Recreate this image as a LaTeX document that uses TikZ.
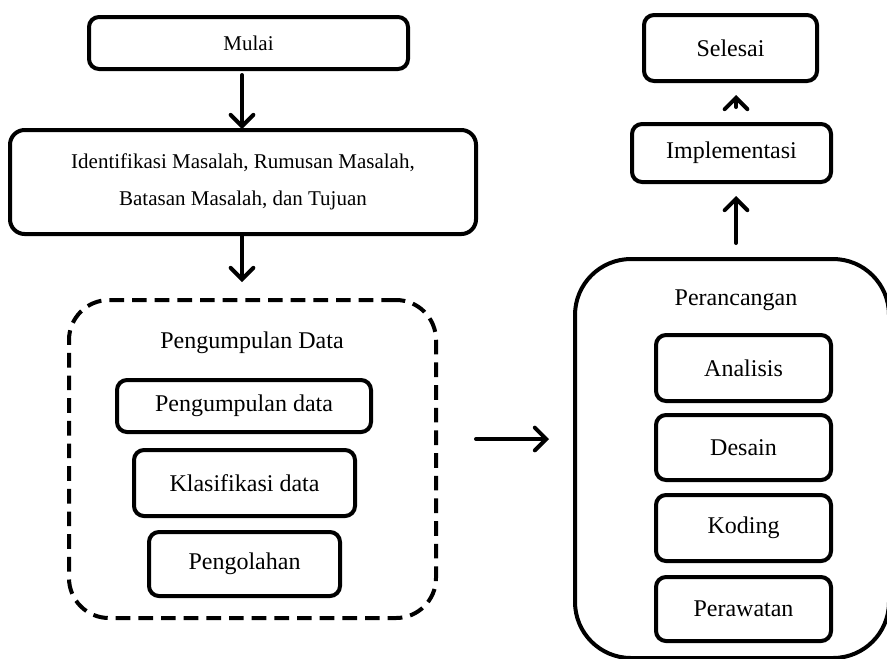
\documentclass[tikz,border=0pt]{standalone}
\usepackage{fontspec}
\setmainfont{Liberation Serif}
\usetikzlibrary{arrows.meta}
\def\u{0.75pt}
\begin{document}
\begin{tikzpicture}[x=0.75pt,y=-0.75pt,
  box/.style={draw=black, line width=3pt, rounded corners=7.5pt, fill=white,
    inner sep=0pt, font=\fontsize{18pt}{22pt}\selectfont},
  group/.style={draw=black, line width=3pt, inner sep=0pt,
    font=\fontsize{18pt}{22pt}\selectfont},
  arr/.style={line width=3pt, line cap=round,
    -{Straight Barb[length=8.5pt,width=17pt,line cap=round]}}]
  \useasboundingbox[fill=white] (0,0) rectangle (887,658);

  % columns used by the connectors
  \coordinate (colL) at (242,0);
  \coordinate (colR) at (736,0);

  % left column
  \node[box, minimum width=319*\u, minimum height=52*\u,
    font=\fontsize{15.75pt}{20pt}\selectfont] (mulai) at (248.5,43) {Mulai};
  \node[box, rounded corners=11pt, minimum width=466*\u, minimum height=104*\u,
    align=center, font=\fontsize{15.75pt}{27.75pt}\selectfont] (ident) at (243,182)
    {Identifikasi Masalah, Rumusan Masalah,\\Batasan Masalah, dan Tujuan};

  \node[group, dashed, dash pattern=on 11pt off 6pt, rounded corners=30pt,
    minimum width=367*\u, minimum height=318*\u] (kumpul) at (252.5,459) {};
  \node[font=\fontsize{18pt}{22pt}\selectfont] (kumpulT) at (252,343) {Pengumpulan Data};
  \node[box, minimum width=254*\u, minimum height=52*\u] (pdata) at (244,406) {Pengumpulan data};
  \node[box, minimum width=221*\u, minimum height=66*\u] (klas) at (244.5,483) {Klasifikasi data};
  \node[box, minimum width=191*\u, minimum height=64*\u] (olah) at (244.5,564) {Pengolahan};

  % right column
  \node[box, minimum width=173*\u, minimum height=66*\u] (selesai) at (730.5,48) {Selesai};
  \node[box, minimum width=199*\u, minimum height=58*\u] (impl) at (731.5,153) {Implementasi};

  \node[group, rounded corners=42pt, minimum width=314*\u, minimum height=399*\u]
    (ranc) at (732,458.5) {};
  \node[font=\fontsize{18pt}{22pt}\selectfont] (rancT) at (736,300) {Perancangan};
  \node[box, minimum width=175*\u, minimum height=66*\u] (analisis) at (743.5,368) {Analisis};
  \node[box, minimum width=175*\u, minimum height=65*\u] (desain) at (743.5,447.5) {Desain};
  \node[box, minimum width=175*\u, minimum height=66*\u] (koding) at (743.5,528) {Koding};
  \node[box, minimum width=175*\u, minimum height=64*\u] (rawat) at (743.5,609) {Perawatan};

  % connectors
  \draw[arr] ([yshift=-4*\u]mulai.south -| colL) -- ([yshift=-1*\u]ident.north -| colL);
  \draw[arr] (ident.south -| colL) -- ([yshift=16*\u]kumpul.north -| colL);
  \draw[arr] ([xshift=38*\u]kumpul.east |- 0,439) -- ([xshift=-24*\u]ranc.west |- 0,439);
  \draw[arr] ([yshift=14*\u]ranc.north -| colR) -- ([yshift=-12*\u]impl.south -| colR);
  \draw[arr] ([yshift=15*\u]impl.north -| colR) -- ([yshift=-12*\u]selesai.south -| colR);
\end{tikzpicture}
\end{document}
